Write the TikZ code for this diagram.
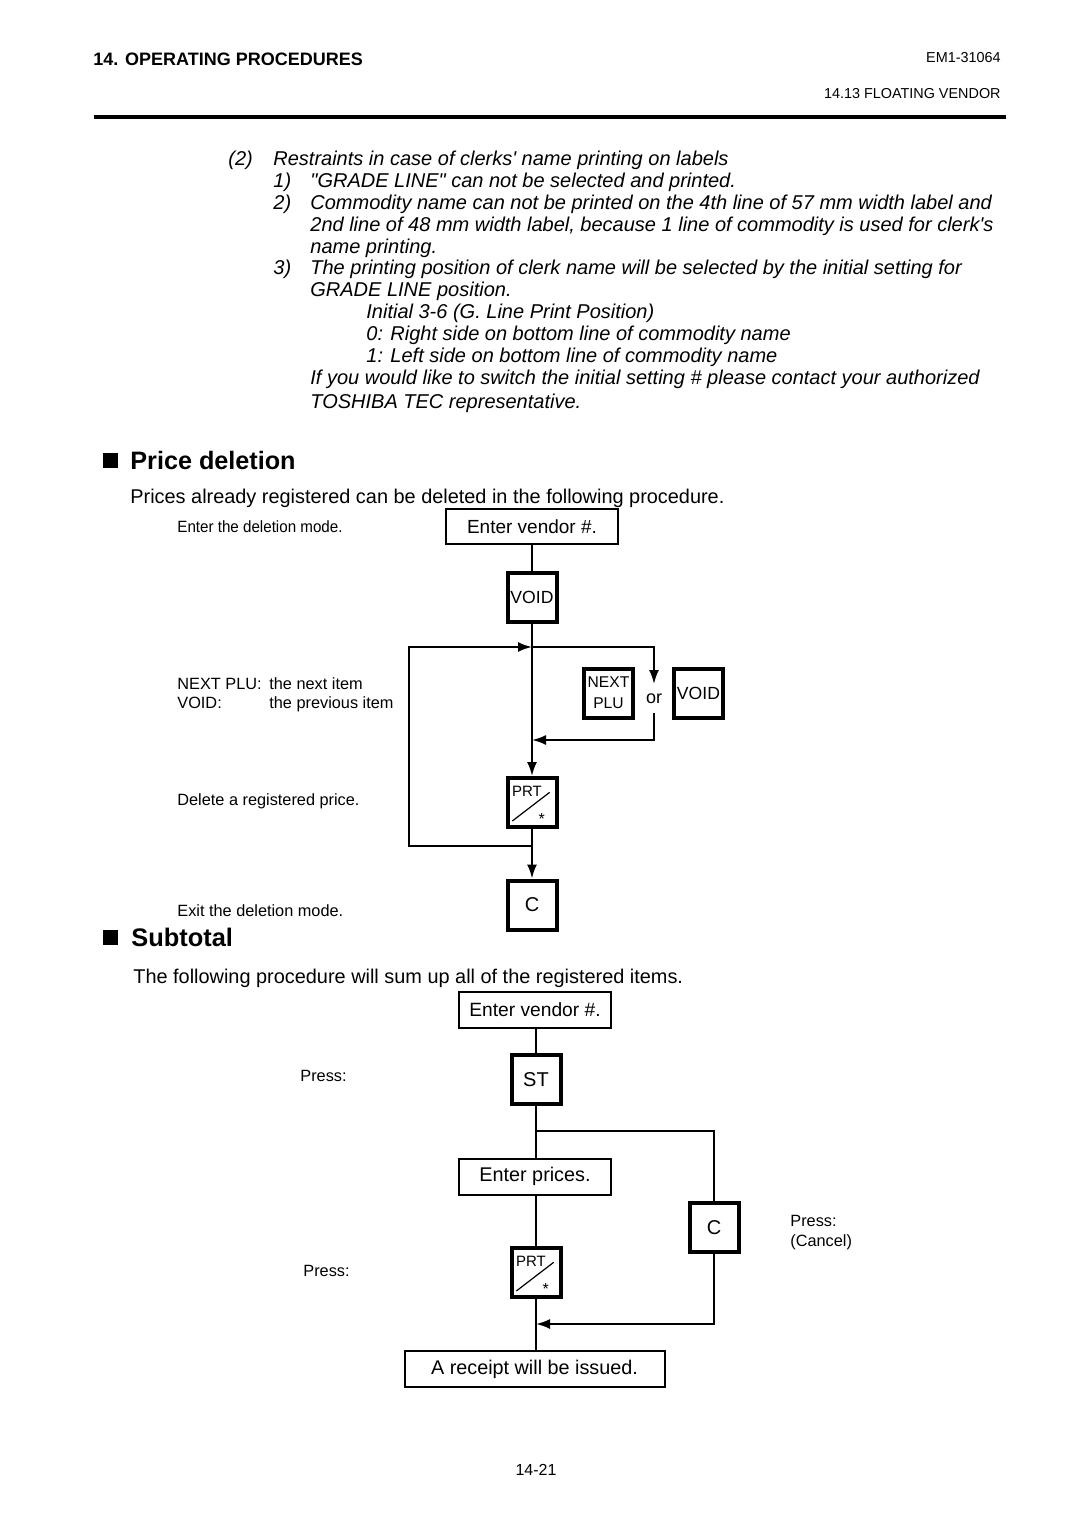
\documentclass[tikz,border=0pt]{standalone}
\usepackage{fontspec}
\newfontfamily\lib{Liberation Sans}
\usetikzlibrary{arrows.meta}
\newcommand\fs[1]{\lib\fontsize{#1}{#1}\selectfont}
\newcommand\prtkey[2]{%
  \node[key] (#1) at #2 {};
  \node[inner sep=0pt, font=\fs{7.5}] (#1t) at ([shift={(-5,-11.5)}]#1.center) {PRT};
  \draw[line width=0.6pt] ([shift={(-19.7,18.5)}]#1.center) -- ([shift={(17.7,-10.2)}]#1.center);
  \node[inner sep=0pt, font=\fs{8}] (#1s) at ([shift={(9.7,16)}]#1.center) {*};
}
\begin{document}
\begin{tikzpicture}[x=0.5pt,y=-0.5pt,
  txt/.style={inner sep=0pt, anchor=base west},
  itl/.style={txt, font=\fs{10}\itshape},
  lbl/.style={txt, font=\fs{8.15}},
  tbox/.style={draw, line width=1pt, inner sep=0pt, minimum height=17.5pt},
  key/.style={draw, line width=2pt, minimum width=24.5pt, minimum height=24.5pt, inner sep=0pt, font=\fs{9}},
  conn/.style={line width=1pt},
  arr/.style={conn, -{Latex[length=7pt,width=5pt]}},
]
\useasboundingbox (0,0) rectangle (1080,1525);

% header
\node[txt, font=\fs{9}\bfseries] (h1) at (93,66) {14. OPERATING PROCEDURES};
\node[inner sep=0pt, anchor=base east, font=\fs{7.2}] (h2) at (1001,63) {EM1-31064};
\node[inner sep=0pt, anchor=base east, font=\fs{7.2}] (h3) at (1001,98) {14.13 FLOATING VENDOR};
\draw[line width=2pt] (94,117) -- (1006,117);

% italic block
\node[itl] (i0a) at (228,165) {(2)};
\node[itl] (i0b) at (273,165) {Restraints in case of clerks' name printing on labels};
\node[itl] (i1a) at (273,187) {1)};
\node[itl] (i1b) at (310,187) {"GRADE LINE" can not be selected and printed.};
\node[itl] (i2a) at (273,209) {2)};
\node[itl] (i2b) at (310,209) {Commodity name can not be printed on the 4th line of 57 mm width label and};
\node[itl] (i2c) at (310,231) {2nd line of 48 mm width label, because 1 line of commodity is used for clerk's};
\node[itl] (i2d) at (310,253) {name printing.};
\node[itl] (i3a) at (273,274) {3)};
\node[itl] (i3b) at (310,274) {The printing position of clerk name will be selected by the initial setting for};
\node[itl] (i3c) at (310,296) {GRADE LINE position.};
\node[itl] (i4) at (366,318) {Initial 3-6 (G. Line Print Position)};
\node[itl] (i5) at (366,340) {0: Right side on bottom line of commodity name};
\node[itl] (i6) at (366,362) {1: Left side on bottom line of commodity name};
\node[itl] (i7) at (310,384) {If you would like to switch the initial setting \# please contact your authorized};
\node[itl] (i8) at (310,408) {TOSHIBA TEC representative.};

% Price deletion
\fill (103,453) rectangle (118,468);
\node[txt, font=\fs{12.6}\bfseries] (pd) at (130,469) {Price deletion};
\node[txt, font=\fs{9.95}] (pdt) at (130,503) {Prices already registered can be deleted in the following procedure.};

\node[lbl] (l1) at (177,532) {\scalebox{0.93}[1]{Enter the deletion mode.}};
\node[lbl] (l2a) at (177,689) {NEXT PLU:};
\node[lbl] (l2b) at (269,689) {the next item};
\node[lbl] (l3a) at (177,708) {VOID:};
\node[lbl] (l3b) at (269,708) {the previous item};
\node[lbl] (l4) at (177,805) {Delete a registered price.};
\node[lbl] (l5) at (177,916) {Exit the deletion mode.};

\node[tbox, minimum width=86pt, font=\fs{9.5}] (ev1) at (532,526.5) {Enter vendor \#.};
\node[key, font=\fs{8.8}] (void1) at (532,597) {VOID};
\node[key, align=center, font=\fs{7.8}] (next) at (608.5,693) {NEXT\\[2.5pt]PLU};
\node[inner sep=0pt, font=\fs{9}] (or) at (654,699) {or};
\node[key, font=\fs{8.8}] (void2) at (698.5,693) {VOID};
\prtkey{prt1}{(532,802.5)}
\node[key, font=\fs{10}] (c1) at (532,905) {C};

\coordinate (j1) at (532,647);
\coordinate (j2) at (532,846);
\coordinate (r1) at (654,684);
\coordinate (r2) at (654,713);
\coordinate (ja) at (532,740);

\draw[conn] (ev1.south) -- (void1.north);
\draw[arr] (void1.south) -- (prt1.north);
\draw[arr] (j1) -- (654,647) -- (r1);
\draw[arr] (r2) -- (654,740) -- (ja);
\draw[conn] (prt1.south) -- (j2);
\draw[arr] (j2) -- (409,846) -- (409,647) -- (j1);
\draw[arr] (j2) -- (c1.north);

% Subtotal
\fill (103,930) rectangle (118,945);
\node[txt, font=\fs{12.7}\bfseries] (sub) at (131,946) {Subtotal};
\node[txt, font=\fs{9.95}] (subt) at (133,983) {The following procedure will sum up all of the registered items.};

\node[lbl] (p1) at (300,1081) {Press:};
\node[lbl] (p2) at (303,1276) {Press:};
\node[lbl] (p3) at (790,1226) {Press:};
\node[lbl] (p4) at (790,1246) {(Cancel)};

\node[tbox, minimum width=76pt, minimum height=18pt, font=\fs{9.6}] (ev2) at (535,1010) {Enter vendor \#.};
\node[key, font=\fs{10}] (st) at (536,1079.5) {ST};
\node[tbox, minimum width=76pt, minimum height=18pt, font=\fs{9.9}] (ep) at (535,1176.5) {Enter prices.};
\prtkey{prt2}{(536,1272.5)}
\node[key, font=\fs{10}] (c2) at (714,1227.5) {C};
\node[tbox, minimum width=130pt, minimum height=18pt, font=\fs{9.9}] (rc) at (534.5,1369) {A receipt will be issued.};

\coordinate (j3) at (536,1131);
\coordinate (j4) at (536,1324);

\draw[conn] (ev2.south -| st) -- (st.north);
\draw[conn] (st.south) -- (ep.north -| st);
\draw[conn] (ep.south -| st) -- (prt2.north);
\draw[conn] (prt2.south) -- (rc.north -| st);
\draw[conn] (j3) -| (c2.north);
\draw[arr] (c2.south) |- (j4);

% footer
\node[inner sep=0pt, anchor=base, font=\fs{8}] (pg) at (536,1475) {14-21};
\end{tikzpicture}
\end{document}
